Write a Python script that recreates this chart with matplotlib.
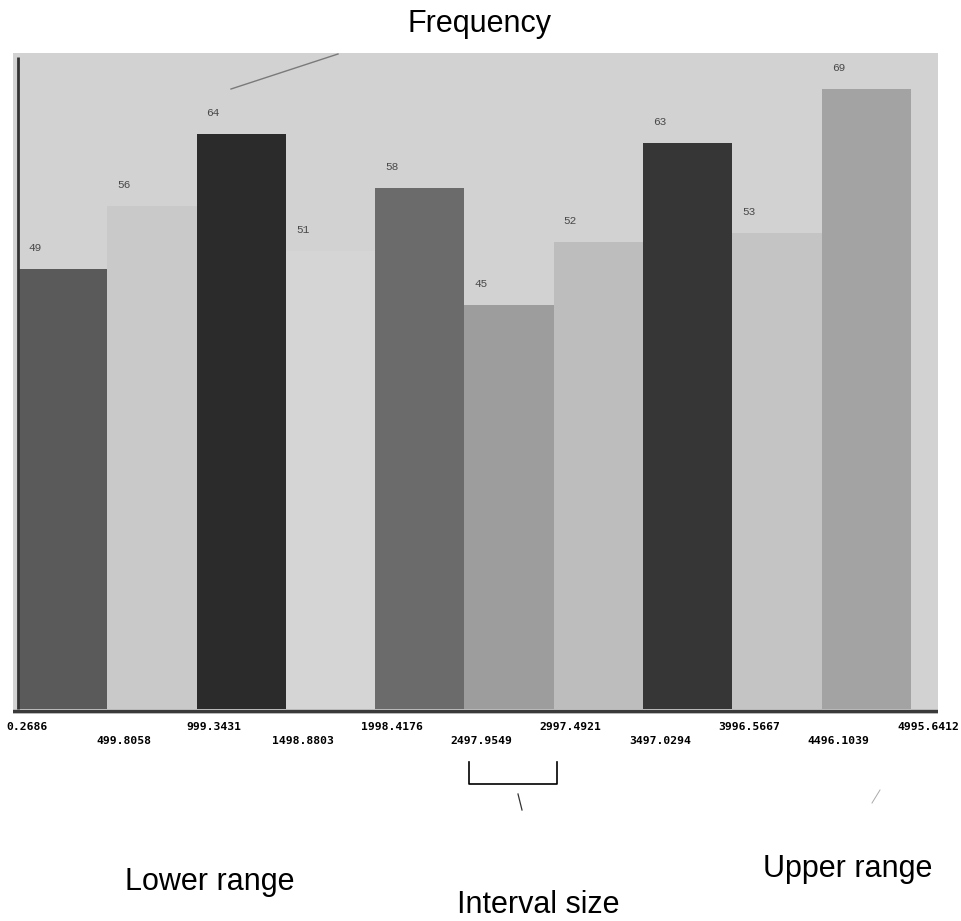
import numpy as np
import matplotlib
matplotlib.use("Agg")
import matplotlib.pyplot as plt
from matplotlib.lines import Line2D

# Histogram: bin edges and counts per interval
bin_edges = [0.2686, 499.8058, 999.3431, 1498.8803, 1998.4176, 2497.9549,
             2997.4921, 3497.0294, 3996.5667, 4496.1039, 4995.6412]
frequencies = [49, 56, 64, 51, 58, 45, 52, 63, 53, 69]
bar_shades = ["#5a5a5a", "#c9c9c9", "#2b2b2b", "#d5d5d5", "#6b6b6b",
              "#9d9d9d", "#bdbdbd", "#363636", "#c4c4c4", "#a3a3a3"]

W, H = 962, 921
fig = plt.figure(figsize=(W / 100, H / 100), dpi=100)
fig.patch.set_facecolor("white")

ax = fig.add_axes([13 / W, 1 - 714 / H, 925 / W, 661 / H])
ax.set_facecolor("#d2d2d2")

edges = np.array(bin_edges)
widths = np.diff(edges)
ax.bar(edges[:-1], frequencies, width=widths, align="edge",
       color=bar_shades, edgecolor="none", zorder=2)

ax.set_xlim(-27.7, 5146.7)
ax.set_ylim(-0.557, 73.05)
for s in ax.spines.values():
    s.set_visible(False)
ax.set_xticks([])
ax.set_yticks([])

# axis lines
ax.vlines(edges[0], 0, 72.6, color="#333333", lw=2.0, zorder=3)
ax.axhline(-0.25, color="#3a3a3a", lw=2.4, zorder=3)

# counts above each bar
for left, v in zip(edges[:-1], frequencies):
    ax.annotate(str(v), (left, v), xytext=(10, 21), textcoords="offset pixels",
                ha="left", va="center", fontfamily="Liberation Mono",
                fontsize=8, color="#4a4a4a", zorder=4)

# edge labels, staggered over two rows
for i, e in enumerate(edges):
    dy = -18 if i % 2 == 0 else -32
    dx = 9 if i == 0 else 17
    ax.annotate(f"{e:.4f}", (e, 0), xytext=(dx, dy), textcoords="offset pixels",
                ha="center", va="center", fontfamily="DejaVu Sans Mono",
                fontweight="bold", fontsize=8.2, color="black",
                annotation_clip=False)


def fx(px):
    return px / W


def fy(py):
    return 1 - py / H


big = dict(fontfamily="Liberation Sans", fontsize=22, color="black",
           ha="center", va="center")
fig.text(fx(480), fy(24), "Frequency", **big)
fig.text(fx(210), fy(882), "Lower range", **big)
fig.text(fx(538), fy(905), "Interval size", **big)
fig.text(fx(848), fy(869), "Upper range", **big)

# pointer from the title to the vertical axis
fig.add_artist(Line2D([fx(231), fx(338)], [fy(89), fy(54)],
                      color="#7a7a7a", lw=1.0))

# bracket marking one interval width
bracket_x = [fx(469), fx(469), fx(557), fx(557)]
bracket_y = [fy(762), fy(784), fy(784), fy(762)]
fig.add_artist(Line2D(bracket_x, bracket_y, color="black", lw=1.2))
fig.add_artist(Line2D([fx(518), fx(522)], [fy(794), fy(810)],
                      color="#333333", lw=0.9))
fig.add_artist(Line2D([fx(880), fx(872)], [fy(790), fy(803)],
                      color="#aaaaaa", lw=0.7))

fig.savefig("out.png", dpi=100, facecolor="white")
